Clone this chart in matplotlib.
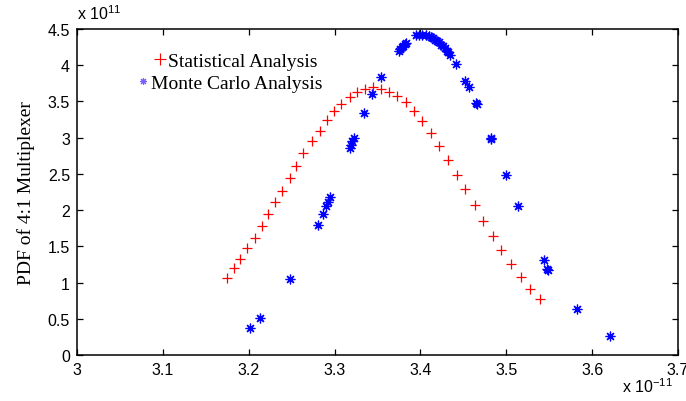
import matplotlib
matplotlib.use("Agg")
import matplotlib.pyplot as plt
from matplotlib.lines import Line2D

# x values in units of 1e-11, y values in units of 1e11
stat_x = [3.1742, 3.1832, 3.1902, 3.1984, 3.2069, 3.2151, 3.2221, 3.2303, 3.2392,
          3.2479, 3.2547, 3.2637, 3.2738, 3.2827, 3.2917, 3.2990, 3.3080, 3.3177,
          3.3267, 3.3349, 3.3447, 3.3539, 3.3632, 3.3730, 3.3829, 3.3920, 3.4022,
          3.4122, 3.4220, 3.4317, 3.4426, 3.4524, 3.4641, 3.4734, 3.4846, 3.4944,
          3.5056, 3.5166, 3.5274, 3.5391]
stat_y = [1.063, 1.197, 1.325, 1.473, 1.615, 1.777, 1.947, 2.112, 2.268, 2.447,
          2.613, 2.784, 2.950, 3.092, 3.240, 3.368, 3.465, 3.562, 3.631, 3.672,
          3.696, 3.676, 3.635, 3.573, 3.486, 3.368, 3.226, 3.060, 2.889, 2.696,
          2.489, 2.292, 2.071, 1.850, 1.647, 1.454, 1.261, 1.073, 0.916, 0.770]

mc_x = [3.2010, 3.2135, 3.2485, 3.2808, 3.2862, 3.2897, 3.2920, 3.2944, 3.3176,
        3.3191, 3.3208, 3.3224, 3.3340, 3.3438, 3.3535, 3.3745, 3.3763, 3.3780,
        3.3798, 3.3815, 3.3827, 3.3944, 3.3979, 3.4014, 3.4060, 3.4095, 3.4119,
        3.4142, 3.4165, 3.4189, 3.4212, 3.4235, 3.4259, 3.4282, 3.4305, 3.4323,
        3.4344, 3.4418, 3.4519, 3.4565, 3.4649, 3.4655, 3.4819, 3.4825, 3.4997,
        3.5136, 3.5443, 3.5478, 3.5484, 3.5822, 3.6203]
mc_y = [0.377, 0.515, 1.049, 1.795, 1.940, 2.053, 2.116, 2.177, 2.855, 2.899,
        2.954, 2.989, 3.341, 3.607, 3.842, 4.197, 4.224, 4.252, 4.272, 4.293,
        4.307, 4.417, 4.424, 4.424, 4.417, 4.404, 4.386, 4.369, 4.355, 4.335,
        4.314, 4.286, 4.259, 4.231, 4.197, 4.176, 4.148, 4.017, 3.787, 3.695,
        3.481, 3.460, 2.996, 2.980, 2.489, 2.060, 1.316, 1.194, 1.180, 0.635,
        0.258]

xticks = [3.0, 3.1, 3.2, 3.3, 3.4, 3.5, 3.6, 3.7]
xtick_labels = ["3", "3.1", "3.2", "3.3", "3.4", "3.5", "3.6", "3.7"]
yticks = [0, 0.5, 1, 1.5, 2, 2.5, 3, 3.5, 4, 4.5]
ytick_labels = ["0", "0.5", "1", "1.5", "2", "2.5", "3", "3.5", "4", "4.5"]

plt.rcParams['mathtext.default'] = 'regular'
sans = ['Liberation Sans', 'DejaVu Sans']
serif = ['Liberation Serif', 'DejaVu Serif']

fig = plt.figure(figsize=(6.86, 4.02), dpi=100)
ax = fig.add_axes([77/686, 46/402, 601/686, 326/402])

ax.plot(stat_x, stat_y, linestyle='none', marker='+', color='#ff0000',
        markersize=7, markeredgewidth=0.9)
ax.plot(mc_x, mc_y, linestyle='none', marker=(8, 2, 0), color='#0000ff',
        markersize=7, markeredgewidth=0.9)

ax.set_xlim(3.0, 3.7)
ax.set_ylim(0, 4.5)
ax.set_xticks(xticks)
ax.set_xticklabels(xtick_labels, fontfamily=sans, fontsize=11.5)
ax.set_yticks(yticks)
ax.set_yticklabels(ytick_labels, fontfamily=sans, fontsize=11.5)
ax.tick_params(direction='in', top=True, right=True, length=4, width=0.9,
               pad=5)
for s in ax.spines.values():
    s.set_linewidth(1.1)

ax.set_ylabel("PDF of 4:1 Multiplexer", fontfamily=serif, fontsize=14,
              labelpad=9)

ax.text(0.0, 1.03, r"x 10$^{11}$", transform=ax.transAxes, ha='left',
        va='baseline', fontfamily=sans, fontsize=11.5)
ax.text(0.907, -0.113, r"x 10$^{-11}$", transform=ax.transAxes, ha='left',
        va='baseline', fontfamily=sans, fontsize=11.5)

h1 = Line2D([], [], linestyle='none', marker='+', color='#ff0000',
            markersize=8, markeredgewidth=0.8)
h2 = Line2D([], [], linestyle='none', marker=(8, 2, 0), color='#7b5cff',
            markersize=5, markeredgewidth=0.8)
leg1 = ax.legend([h1], ["Statistical Analysis"], loc='center left',
                 bbox_to_anchor=(0.128, 0.902), frameon=False,
                 prop={'family': serif, 'size': 14}, handlelength=0.6,
                 handletextpad=0.1, borderpad=0, borderaxespad=0)
ax.add_artist(leg1)
ax.legend([h2], ["Monte Carlo Analysis"], loc='center left',
          bbox_to_anchor=(0.0998, 0.834), frameon=False,
          prop={'family': serif, 'size': 14}, handlelength=0.6,
          handletextpad=0.1, borderpad=0, borderaxespad=0)

fig.savefig("out.png", dpi=100)
